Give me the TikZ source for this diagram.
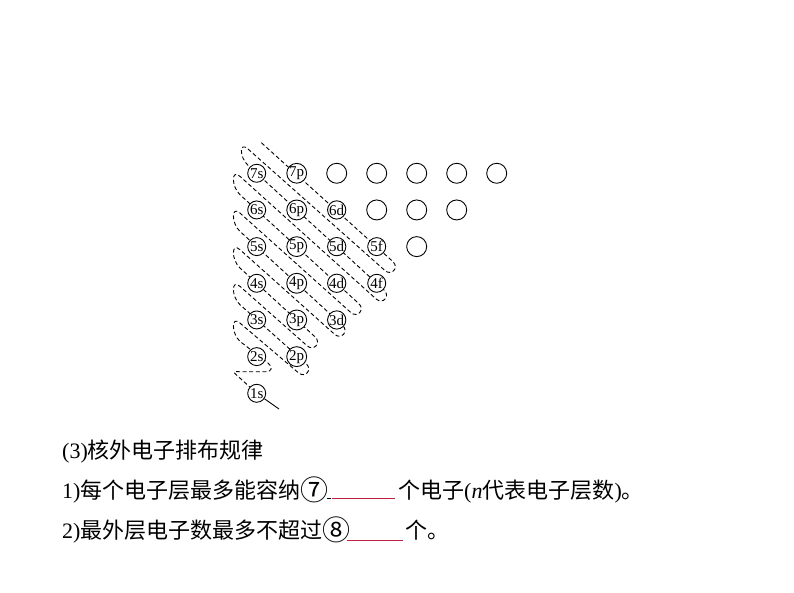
\documentclass[tikz,border=0pt]{standalone}
\usepackage{fontspec}
\usepackage{graphicx}
\setmainfont{Liberation Serif}
\newfontfamily\cjk{Noto Sans CJK SC}
\usetikzlibrary{positioning}
\definecolor{blankred}{RGB}{192,32,64}
\newcommand{\bignum}[1]{\raisebox{-2.4pt}{\fontsize{28}{28}\selectfont\cjk #1}}

\begin{document}
\begin{tikzpicture}[x=1pt, y=-1pt,
    orbital/.style={circle, draw, fill=white, line width=0.9pt, inner sep=0pt,
                    minimum size=18pt, font=\fontsize{15}{15}\selectfont},
    vacant/.style={circle, draw, fill=white, line width=0.9pt, inner sep=0pt, minimum size=20pt},
    snake/.style={dash pattern=on 4pt off 2.6pt, line width=0.9pt},
    txt/.style={anchor=base west, inner sep=0pt, font=\fontsize{22}{26}\selectfont},
    blank/.style={blankred, line width=0.9pt}]

    \fill[white] (0,0) rectangle (794,593);
    \useasboundingbox (0,0) rectangle (794,593);

    % filling order, drawn below the orbitals
    \draw[snake] (256.7,393.3) -- (237,375.4) .. controls +(-5,-4.5) and +(-5,0) .. (239,371.7)
        -- (266,371.7) .. controls +(6,0) and +(5,4) .. (268,363) -- (240,341.4)
        .. controls +(-8.8,-8.1) and +(-8.8,-8.1) .. (240,323.1) -- (298.2,372.6)
        .. controls +(6.6,6.1) and +(6.6,6.1) .. (306.3,363.8) -- (240,304.7)
        .. controls +(-8.8,-8.1) and +(-8.8,-8.1) .. (240,286.4) -- (307,345.7)
        .. controls +(6.6,6.1) and +(6.6,6.1) .. (315.1,336.9) -- (240,268)
        .. controls +(-8.8,-8.1) and +(-8.8,-8.1) .. (240,249.7) -- (334.5,334.2)
        .. controls +(6.6,6.1) and +(6.6,6.1) .. (342.6,325.4) -- (240,231.4)
        .. controls +(-8.8,-8.1) and +(-8.8,-8.1) .. (240,213.1) -- (350.7,312.4)
        .. controls +(6.6,6.1) and +(6.6,6.1) .. (358.8,303.6) -- (240,194.7)
        .. controls +(-8.8,-8.1) and +(-8.8,-8.1) .. (240,176.4) -- (376,298.9)
        .. controls +(6.6,6.1) and +(6.6,6.1) .. (384.1,290.1) -- (248,165.3)
        .. controls +(-8.8,-8.1) and +(-8.8,-8.1) .. (248,149) -- (384.8,270.4)
        .. controls +(6.6,6.1) and +(6.6,6.1) .. (392.9,261.6) -- (260,141.5);

    % orbitals
    \foreach \n/\l/\lab in {1/0/1s, 2/0/2s, 2/1/2p, 3/0/3s, 3/1/3p, 3/2/3d,
                            4/0/4s, 4/1/4p, 4/2/4d, 4/3/4f, 5/0/5s, 5/1/5p, 5/2/5d, 5/3/5f,
                            6/0/6s, 6/1/6p, 6/2/6d, 7/0/7s, 7/1/7p}
        \node[orbital] (o\lab) at ({256.7+40*\l},{393.3-36.67*(\n-1)}) {\lab};
    \foreach \n/\l in {5/4, 6/3, 6/4, 6/5, 7/2, 7/3, 7/4, 7/5, 7/6}
        \node[vacant] (v\n\l) at ({256.7+40*\l},{393.3-36.67*(\n-1)}) {};

    \coordinate (tail) at (279,409);
    \draw[line width=0.9pt] (o1s) -- (tail);

    % text
    \node[txt] (head)  at (62,458)  {(3){\cjk 核外电子排布规律}};
    \node[txt] (rule1) at (62,498)  {1){\cjk 每个电子层最多能容纳}\bignum{⑦}};
    \node[txt] (rest1) at (398,498) {{\cjk 个电子}(\textit{n}{\cjk 代表电子层数}){\cjk 。}};
    \node[txt] (rule2) at (62,538)  {2){\cjk 最外层电子数最多不超过}\bignum{⑧}};
    \node[txt] (rest2) at (405,538) {{\cjk 个。}};

    \coordinate (k7a) at (327,498);
    \coordinate (k7b) at (331,498);
    \coordinate (b7a) at (332,498);
    \coordinate (b7b) at (395,498);
    \coordinate (b8a) at (347,540);
    \coordinate (b8b) at (403,540);
    \draw[line width=0.9pt] (k7a) -- (k7b);
    \draw[blank] (b7a) -- (b7b);
    \draw[blank] (b8a) -- (b8b);

\end{tikzpicture}
\end{document}
